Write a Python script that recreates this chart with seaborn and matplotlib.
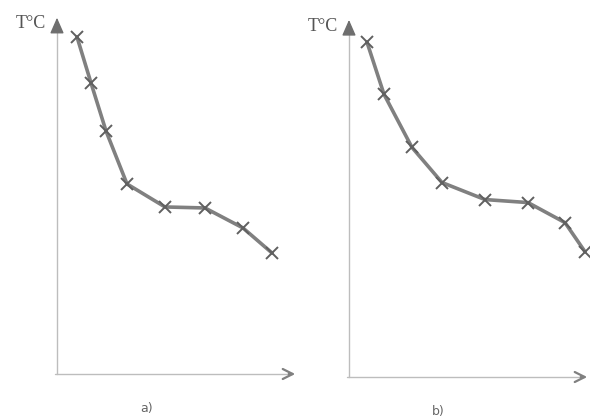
import numpy as np
import pandas as pd
import seaborn as sns
import matplotlib
matplotlib.use("Agg")
import matplotlib.pyplot as plt

# cooling curves, time (arbitrary units) vs temperature (arbitrary units)
time_a = [1.0, 1.7, 2.45, 3.5, 5.4, 7.4, 9.3, 10.75]
temp_a = [16.85, 14.55, 12.15, 9.5, 8.35, 8.3, 7.3, 6.05]

time_b = [0.9, 1.75, 3.15, 4.65, 6.8, 8.95, 10.8, 11.8]
temp_b = [16.7, 14.1, 11.45, 9.7, 8.85, 8.7, 7.7, 6.25]

panel_labels = ["a)", "b)"]
y_label = "T°C"

sns.set_theme(style="white")
plt.rcParams["font.family"] = ["Liberation Serif", "DejaVu Serif"]

fig = plt.figure(figsize=(5.9, 4.19), dpi=100)
ax_a = fig.add_axes([0.0966, 0.1074, 0.4085, 0.857])
ax_b = fig.add_axes([0.5915, 0.1002, 0.4085, 0.859])

line_c = "#808080"
axis_c = "#bdbdbd"
head_c = "#6e6e6e"

for ax, t, T, lab in [(ax_a, time_a, temp_a, panel_labels[0]),
                      (ax_b, time_b, temp_b, panel_labels[1])]:
    df = pd.DataFrame({"t": t, "T": T})
    sns.lineplot(data=df, x="t", y="T", ax=ax, color=line_c, linewidth=2.6,
                 marker="x", markersize=8, markeredgewidth=1.4,
                 markeredgecolor="#606060", solid_joinstyle="round")
    ax.set_xlim(0, 12.05)
    ax.set_ylim(0, 17.95)
    ax.set_xticks([])
    ax.set_yticks([])
    ax.set_xlabel("")
    ax.set_ylabel("")
    for s in ax.spines.values():
        s.set_visible(False)
    ax.patch.set_alpha(0)
    # axis lines
    ax.plot([0, 0], [0, 0.97], transform=ax.transAxes, color=axis_c, lw=1.0,
            clip_on=False)
    ax.plot([-0.01, 0.97], [0, 0], transform=ax.transAxes, color=axis_c, lw=1.0,
            clip_on=False)
    # arrow heads
    ax.annotate("", xy=(0, 1.0), xytext=(0, 0.95), xycoords="axes fraction",
                arrowprops=dict(arrowstyle="-|>,head_length=0.8,head_width=0.35",
                                color=head_c, lw=1.0), annotation_clip=False)
    ax.annotate("", xy=(1.0, 0), xytext=(0.95, 0), xycoords="axes fraction",
                arrowprops=dict(arrowstyle="->,head_length=0.6,head_width=0.3",
                                color="#808080", lw=1.6), annotation_clip=False)
    ax.text(-0.045, 0.975, y_label, transform=ax.transAxes, ha="right", va="center",
            fontsize=13, color="#555555")
    ax.text(0.37, -0.095, lab, transform=ax.transAxes, ha="center", va="center",
            fontsize=9, color="#666666", family=["DejaVu Sans"])

fig.savefig("out.png", dpi=100)
